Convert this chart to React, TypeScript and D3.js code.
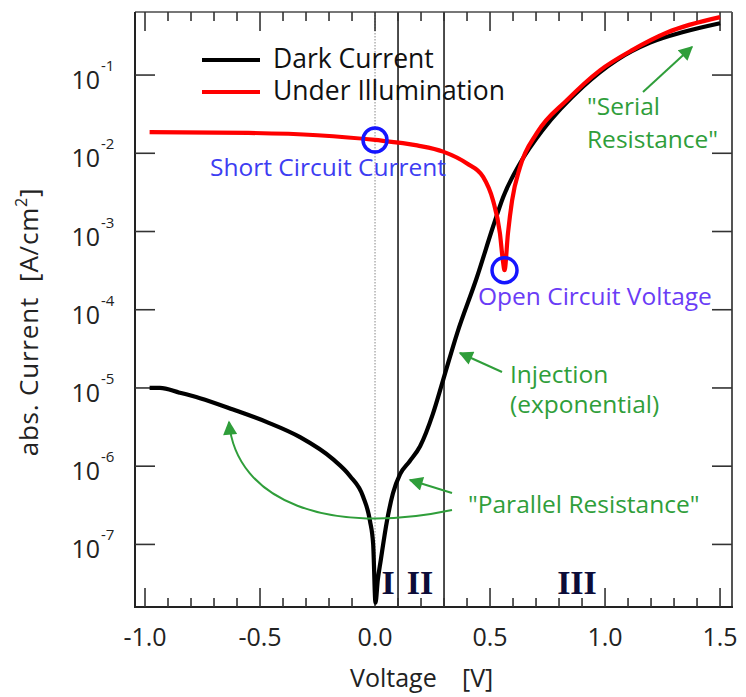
import React from "react";
import * as d3 from "d3";

const xTickValues = [-1.0, -0.5, 0.0, 0.5, 1.0, 1.5];
const xTickLabels = ["-1.0", "-0.5", "0.0", "0.5", "1.0", "1.5"];
const yTickExponents = [-1, -2, -3, -4, -5, -6, -7];

const darkVoltage = [-0.98, -0.935, -0.85, -0.761, -0.617, -0.47, -0.326, -0.183, -0.109, -0.052, -0.022, -0.008, 0.002, 0.012, 0.025, 0.052, 0.078, 0.109, 0.15, 0.196, 0.252, 0.296, 0.357, 0.443, 0.513, 0.557, 0.63, 0.73, 0.904, 1.05, 1.196, 1.34, 1.5];
const darkCurrent = [1.0e-5, 1.0e-5, 8.7e-6, 7.4e-6, 5.3e-6, 3.66e-6, 2.35e-6, 1.23e-6, 7.5e-7, 4.1e-7, 2.0e-7, 1.0e-7, 1.8e-8, 3.5e-8, 6.3e-8, 2.0e-7, 4.5e-7, 7.9e-7, 1.15e-6, 1.8e-6, 4.7e-6, 1.26e-5, 5.0e-5, 2.6e-4, 1.15e-3, 2.75e-3, 7.4e-3, 2.0e-2, 7.1e-2, 0.155, 0.26, 0.355, 0.46];

const lightVoltage = [-0.98, -0.55, -0.25, 0.0, 0.183, 0.296, 0.4, 0.47, 0.513, 0.543, 0.557, 0.563, 0.578, 0.596, 0.63, 0.704, 0.835, 0.978, 1.12, 1.27, 1.5];
const lightCurrent = [1.86e-2, 1.82e-2, 1.7e-2, 1.48e-2, 1.26e-2, 1.05e-2, 7.4e-3, 5.0e-3, 2.5e-3, 9.5e-4, 4.0e-4, 3.2e-4, 9.5e-4, 2.5e-3, 6.6e-3, 1.82e-2, 4.8e-2, 0.115, 0.21, 0.35, 0.55];

const regionBoundaries = [0.1, 0.3];
const shortCircuitPoint = { v: 0.0, i: 1.48e-2 };
const openCircuitPoint = { v: 0.563, i: 3.2e-4 };

const FONT = "'Open Sans', 'DejaVu Sans', sans-serif";
const GREEN = "#2f9e3a";

export default function App() {
  const left = 135, right = 732, top = 12, bottom = 607;
  const x = d3.scaleLinear().domain([-1.0435, 1.552]).range([left, right]);
  const y = d3.scaleLog().domain([Math.pow(10, -7.8), Math.pow(10, -0.194)]).range([bottom, top]);

  const darkData = darkVoltage.map((v, k) => ({ v, i: darkCurrent[k] }));
  const lightData = lightVoltage.map((v, k) => ({ v, i: lightCurrent[k] }));
  const line = d3
    .line<{ v: number; i: number }>()
    .x((d) => x(d.v))
    .y((d) => y(d.i))
    .curve(d3.curveMonotoneX);

  const minorX = d3.range(-10, 16).map((k) => k / 10);
  const isMajor = (v: number) => Math.abs(v * 2 - Math.round(v * 2)) < 1e-6;

  return (
    <svg
      width={746}
      height={697}
      style={{ position: "absolute", left: 0, top: 0, background: "#fff" }}
      fontFamily={FONT}
    >
      <defs>
        <marker id="gArrow" viewBox="0 0 10 10" refX="9" refY="5" markerWidth="16" markerHeight="14" markerUnits="userSpaceOnUse" orient="auto">
          <path d="M0,0 L10,5 L0,10 Z" fill={GREEN} />
        </marker>
        <clipPath id="plotClip">
          <rect x={left} y={top} width={right - left} height={bottom - top} />
        </clipPath>
      </defs>

      {/* region lines */}
      <line x1={x(0)} x2={x(0)} y1={top} y2={bottom} stroke="#888" strokeWidth={1} strokeDasharray="1.5,1.5" />
      {regionBoundaries.map((b) => (
        <line key={b} x1={x(b)} x2={x(b)} y1={top} y2={bottom} stroke="#111" strokeWidth={1.5} />
      ))}

      {/* frame */}
      <line x1={left} x2={right} y1={top} y2={top} stroke="#777" strokeWidth={2} />
      <line x1={right} x2={right} y1={top} y2={bottom} stroke="#555" strokeWidth={2} />
      <line x1={left} x2={left} y1={top} y2={bottom + 1} stroke="#222" strokeWidth={2} />
      <line x1={left - 1} x2={right + 1} y1={bottom} y2={bottom} stroke="#222" strokeWidth={2} />

      {/* x ticks bottom & top */}
      {minorX.map((v) => {
        const len = isMajor(v) ? 19 : 9;
        return (
          <g key={"xt" + v} stroke="#333" strokeWidth={1.6}>
            <line x1={x(v)} x2={x(v)} y1={bottom} y2={bottom - len} />
            <line x1={x(v)} x2={x(v)} y1={top} y2={top + len} />
          </g>
        );
      })}
      {xTickValues.map((v, k) => (
        <text key={"xl" + v} x={x(v)} y={646} textAnchor="middle" fontSize={25} fill="#222">
          {xTickLabels[k]}
        </text>
      ))}

      {/* y ticks */}
      {yTickExponents.map((e) => {
        const yy = y(Math.pow(10, e));
        return (
          <g key={"yt" + e}>
            <line x1={left} x2={left + 20} y1={yy} y2={yy} stroke="#333" strokeWidth={1.6} />
            <line x1={right} x2={right - 20} y1={yy} y2={yy} stroke="#333" strokeWidth={1.6} />
            <text x={100} y={yy + 14} textAnchor="end" fontSize={25} fill="#222">10</text>
            <text x={101} y={yy - 4} textAnchor="start" fontSize={15} fill="#222">{"-" + Math.abs(e)}</text>
          </g>
        );
      })}

      {/* axis titles */}
      <text y={687} fontSize={25} fill="#222">
        <tspan x={350}>Voltage</tspan>
        <tspan x={462}>[V]</tspan>
      </text>
      <text transform="translate(38,322) rotate(-90)" textAnchor="middle" fontSize={26} letterSpacing={0.8} fill="#222">
        abs. Current{"\u00a0\u00a0"}[A/cm<tspan fontSize={16} dy={-11}>2</tspan><tspan dy={11}>]</tspan>
      </text>

      {/* curves */}
      <g clipPath="url(#plotClip)">
        <path d={line(darkData) || ""} fill="none" stroke="#000" strokeWidth={4.2} strokeLinejoin="round" />
        <path d={line(lightData) || ""} fill="none" stroke="#ff0000" strokeWidth={4.2} strokeLinejoin="round" />
      </g>

      {/* legend */}
      <line x1={202} x2={260} y1={60} y2={60} stroke="#000" strokeWidth={4} />
      <line x1={202} x2={260} y1={92} y2={92} stroke="#ff0000" strokeWidth={4} />
      <text x={273} y={68} fontSize={26.5} fill="#111">Dark Current</text>
      <text x={273} y={100} fontSize={26.5} fill="#111">Under Illumination</text>

      {/* circles */}
      <circle cx={x(shortCircuitPoint.v)} cy={y(shortCircuitPoint.i)} r={12} fill="none" stroke="#1515ff" strokeWidth={3.5} />
      <circle cx={x(openCircuitPoint.v)} cy={y(openCircuitPoint.i)} r={12.5} fill="none" stroke="#1515ff" strokeWidth={3.5} />
      <text x={210} y={176} fontSize={24.5} fill="#3d3df2">Short Circuit Current</text>
      <text x={478} y={305} fontSize={24.5} fill="#6a3cf6">Open Circuit Voltage</text>

      {/* green annotations */}
      <text x={587} y={115} fontSize={24.5} fill={GREEN}>"Serial</text>
      <text x={587} y={148} fontSize={24.5} fill={GREEN}>Resistance"</text>
      <line x1={643} y1={92} x2={692} y2={47} stroke={GREEN} strokeWidth={2} markerEnd="url(#gArrow)" />

      <text x={510} y={383} fontSize={24.5} fill={GREEN}>Injection</text>
      <text x={510} y={413} fontSize={24.5} fill={GREEN}>(exponential)</text>
      <line x1={502} y1={372} x2={460} y2={353} stroke={GREEN} strokeWidth={2} markerEnd="url(#gArrow)" />

      <text x={468} y={513} fontSize={24.5} fill={GREEN}>"Parallel Resistance"</text>
      <line x1={452} y1={493} x2={410} y2={480} stroke={GREEN} strokeWidth={2} markerEnd="url(#gArrow)" />
      <path d="M452,510 C330,536 236,502 229,422" fill="none" stroke={GREEN} strokeWidth={2} markerEnd="url(#gArrow)" />

      {/* region labels */}
      <g fontFamily="'Liberation Serif', 'DejaVu Serif', serif" fontWeight="bold" fontSize={34} fill="#0c0c38">
        <text x={388} y={594} textAnchor="middle">I</text>
        <text x={420} y={594} textAnchor="middle">II</text>
        <text x={577} y={594} textAnchor="middle">III</text>
      </g>
    </svg>
  );
}
